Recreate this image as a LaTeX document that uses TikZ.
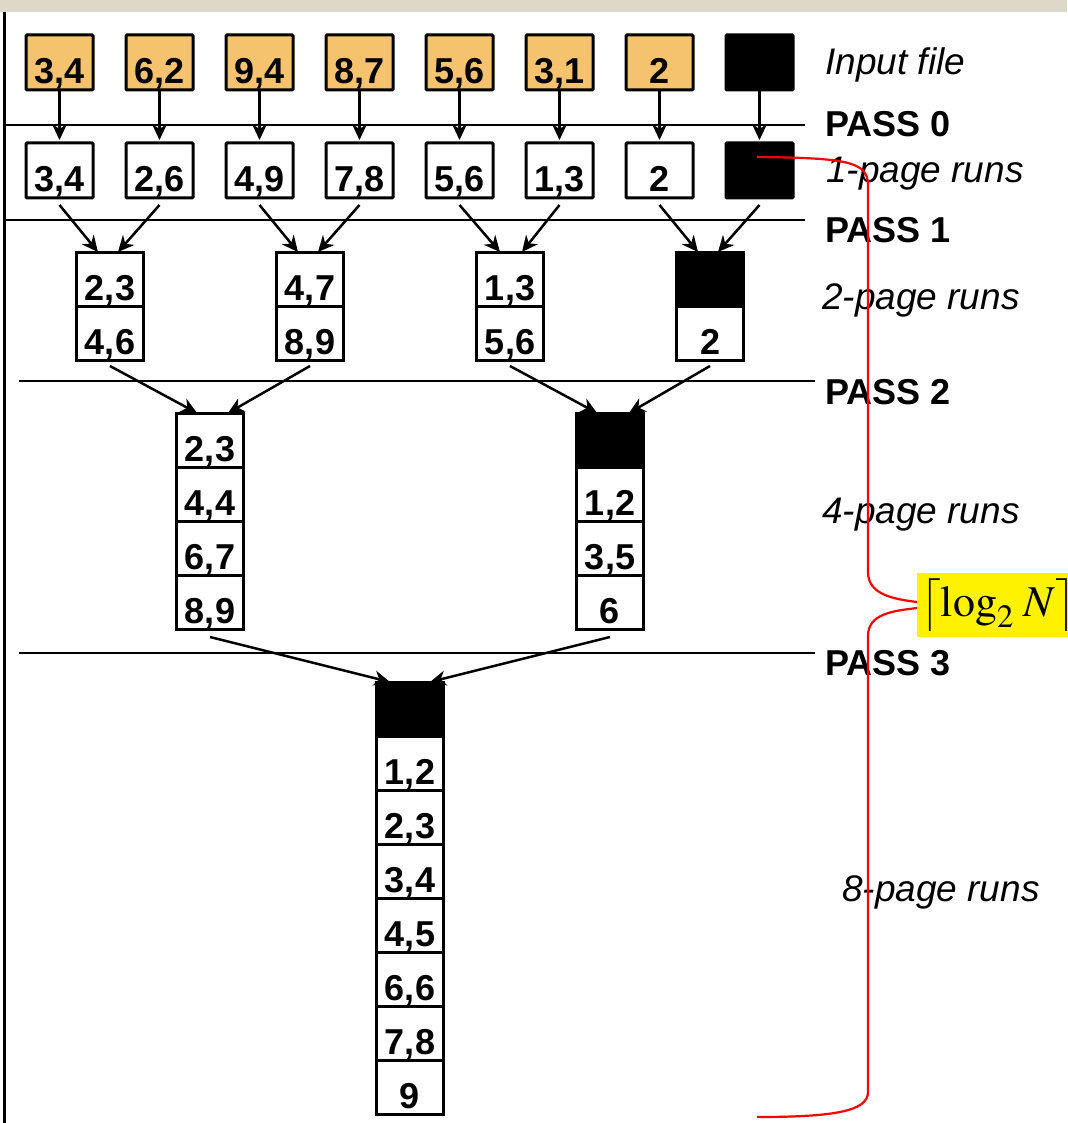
\documentclass[tikz,border=0pt]{standalone}
\usepackage{amsmath}
\usepackage{mathptmx}
\usepackage{fontspec}
\setmainfont{Liberation Sans}
\usetikzlibrary{arrows.meta,positioning}
\definecolor{pagefill}{HTML}{F5C26E}
\definecolor{topbar}{HTML}{DED8C9}

\begin{document}
\begin{tikzpicture}[x=1pt, y=-1pt, node distance=53pt and 33pt,
  pg/.style={draw, line width=3pt, rounded corners=1pt, minimum width=67pt, inner sep=0pt, outer sep=0pt,
    text height=49pt, text depth=6pt, font=\fontsize{36}{40}\selectfont\bfseries},
  inpg/.style={pg, fill=pagefill},
  cellbox/.style={pg, rounded corners=0pt, text height=48pt},
  eof/.style={fill=black},
  pass/.style={anchor=west, inner sep=0pt, font=\fontsize{36}{40}\selectfont\bfseries},
  runs/.style={anchor=west, inner sep=0pt, font=\fontsize{37}{41}\selectfont\itshape},
  passline/.style={line width=2.5pt},
  arr/.style={->, line width=2.5pt},
  brace/.style={red, line width=2.2pt},
  logbox/.style={anchor=west, fill=yellow, inner xsep=3pt, inner ysep=0pt, minimum height=64pt, font=\fontsize{44}{50}\selectfont},
  >={Stealth[length=16pt,width=15pt,inset=5pt]}]
\useasboundingbox (0,0) rectangle (1067,1123);
\fill[topbar] (0,0) rectangle (1067,12.5);
\draw[line width=3pt] (4,12.5) -- (4,1123);

% pass separators
\draw[passline] (4,125) -- (805,125);
\draw[passline] (4,220) -- (805,220);
\draw[passline] (19,381) -- (815,381);
\draw[passline] (19,653) -- (815,653);

% input file
\node[inpg] (I1) at (59.5,62.5) {3,4};
\node[inpg, right=of I1] (I2) {6,2};
\node[inpg, right=of I2] (I3) {9,4};
\node[inpg, right=of I3] (I4) {8,7};
\node[inpg, right=of I4] (I5) {5,6};
\node[inpg, right=of I5] (I6) {3,1};
\node[inpg, right=of I6] (I7) {2};
\node[inpg, eof, right=of I7] (I8) {};

% 1-page runs
\node[pg, below=of I1] (P1) {3,4};
\node[pg, below=of I2] (P2) {2,6};
\node[pg, below=of I3] (P3) {4,9};
\node[pg, below=of I4] (P4) {7,8};
\node[pg, below=of I5] (P5) {5,6};
\node[pg, below=of I6] (P6) {1,3};
\node[pg, below=of I7] (P7) {2};
\node[pg, eof, below=of I8] (P8) {};

% 2-page runs
\node[cellbox] (A1) at (110,279) {2,3};
\node[cellbox, below=0pt of A1] (A2) {4,6};
\node[cellbox] (B1) at (310,279) {4,7};
\node[cellbox, below=0pt of B1] (B2) {8,9};
\node[cellbox] (C1) at (510,279) {1,3};
\node[cellbox, below=0pt of C1] (C2) {5,6};
\node[cellbox, eof] (D1) at (710,279) {};
\node[cellbox, below=0pt of D1] (D2) {2};

% 4-page runs
\node[cellbox] (E1) at (210,440) {2,3};
\node[cellbox, below=0pt of E1] (E2) {4,4};
\node[cellbox, below=0pt of E2] (E3) {6,7};
\node[cellbox, below=0pt of E3] (E4) {8,9};
\node[cellbox, eof] (F1) at (610,440) {};
\node[cellbox, below=0pt of F1] (F2) {1,2};
\node[cellbox, below=0pt of F2] (F3) {3,5};
\node[cellbox, below=0pt of F3] (F4) {6};

% 8-page run
\node[cellbox, eof] (G1) at (410,709) {};
\node[cellbox, below=0pt of G1] (G2) {1,2};
\node[cellbox, below=0pt of G2] (G3) {2,3};
\node[cellbox, below=0pt of G3] (G4) {3,4};
\node[cellbox, below=0pt of G4] (G5) {4,5};
\node[cellbox, below=0pt of G5] (G6) {6,6};
\node[cellbox, below=0pt of G6] (G7) {7,8};
\node[cellbox, below=0pt of G7] (G8) {9};

% labels on the right
\node[runs] (infile) at (825,65) {Input file};
\node[pass] (pass0) at (825,124) {PASS 0};
\node[runs] (run1) at (826,174) {1-page runs};
\node[pass] (pass1) at (825,230) {PASS 1};
\node[runs] (run2) at (822,300) {2-page runs};
\node[pass] (pass2) at (825,392) {PASS 2};
\node[runs] (run4) at (822,515) {4-page runs};
\node[pass] (pass3) at (825,663) {PASS 3};
\node[runs] (run8) at (842,892) {8-page runs};

% pass 0
\draw[arr, shorten >=3pt] (I1) -- (P1);
\draw[arr, shorten >=3pt] (I2) -- (P2);
\draw[arr, shorten >=3pt] (I3) -- (P3);
\draw[arr, shorten >=3pt] (I4) -- (P4);
\draw[arr, shorten >=3pt] (I5) -- (P5);
\draw[arr, shorten >=3pt] (I6) -- (P6);
\draw[arr, shorten >=3pt] (I7) -- (P7);
\draw[arr, shorten >=3pt] (I8) -- (P8);

% pass 1
\draw[arr] ([yshift=-7pt]P1.south) -- ([xshift=-12pt]A1.north);
\draw[arr] ([yshift=-7pt]P2.south) -- ([xshift=8pt]A1.north);
\draw[arr] ([yshift=-7pt]P3.south) -- ([xshift=-12pt]B1.north);
\draw[arr] ([yshift=-7pt]P4.south) -- ([xshift=8pt]B1.north);
\draw[arr] ([yshift=-7pt]P5.south) -- ([xshift=-10pt]C1.north);
\draw[arr] ([yshift=-7pt]P6.south) -- ([xshift=12pt]C1.north);
\draw[arr] ([yshift=-7pt]P7.south) -- ([xshift=-12pt]D1.north);
\draw[arr] ([yshift=-7pt]P8.south) -- ([xshift=8pt]D1.north);

% pass 2
\draw[arr] ([yshift=-6pt]A2.south) -- ([xshift=-13pt]E1.north);
\draw[arr] ([yshift=-6pt]B2.south) -- ([xshift=18pt]E1.north);
\draw[arr] ([yshift=-6pt]C2.south) -- ([xshift=-13pt]F1.north);
\draw[arr] ([yshift=-6pt]D2.south) -- ([xshift=19pt]F1.north);

% pass 3
\draw[arr] ([yshift=-8pt]E4.south) -- ([xshift=-20pt]G1.north);
\draw[arr] ([yshift=-8pt]F4.south) -- ([xshift=20pt]G1.north);

% number of passes
\node[logbox] (logn) at (917,605) {$\bigl\lceil \log_2\,N \bigr\rceil$};
\coordinate (bracetop) at (757,157);
\coordinate (bracebot) at (757,1117);
\draw[brace] (bracetop) .. controls (845,158) and (868,161) .. (868,185) -- (868,572)
  .. controls (868,594) and (892,599) .. ([yshift=3pt]logn.west);
\draw[brace] ([yshift=-3pt]logn.west) .. controls (892,611) and (868,614) .. (868,636) -- (868,1092)
  .. controls (868,1111) and (835,1117) .. (bracebot);
\end{tikzpicture}
\end{document}
